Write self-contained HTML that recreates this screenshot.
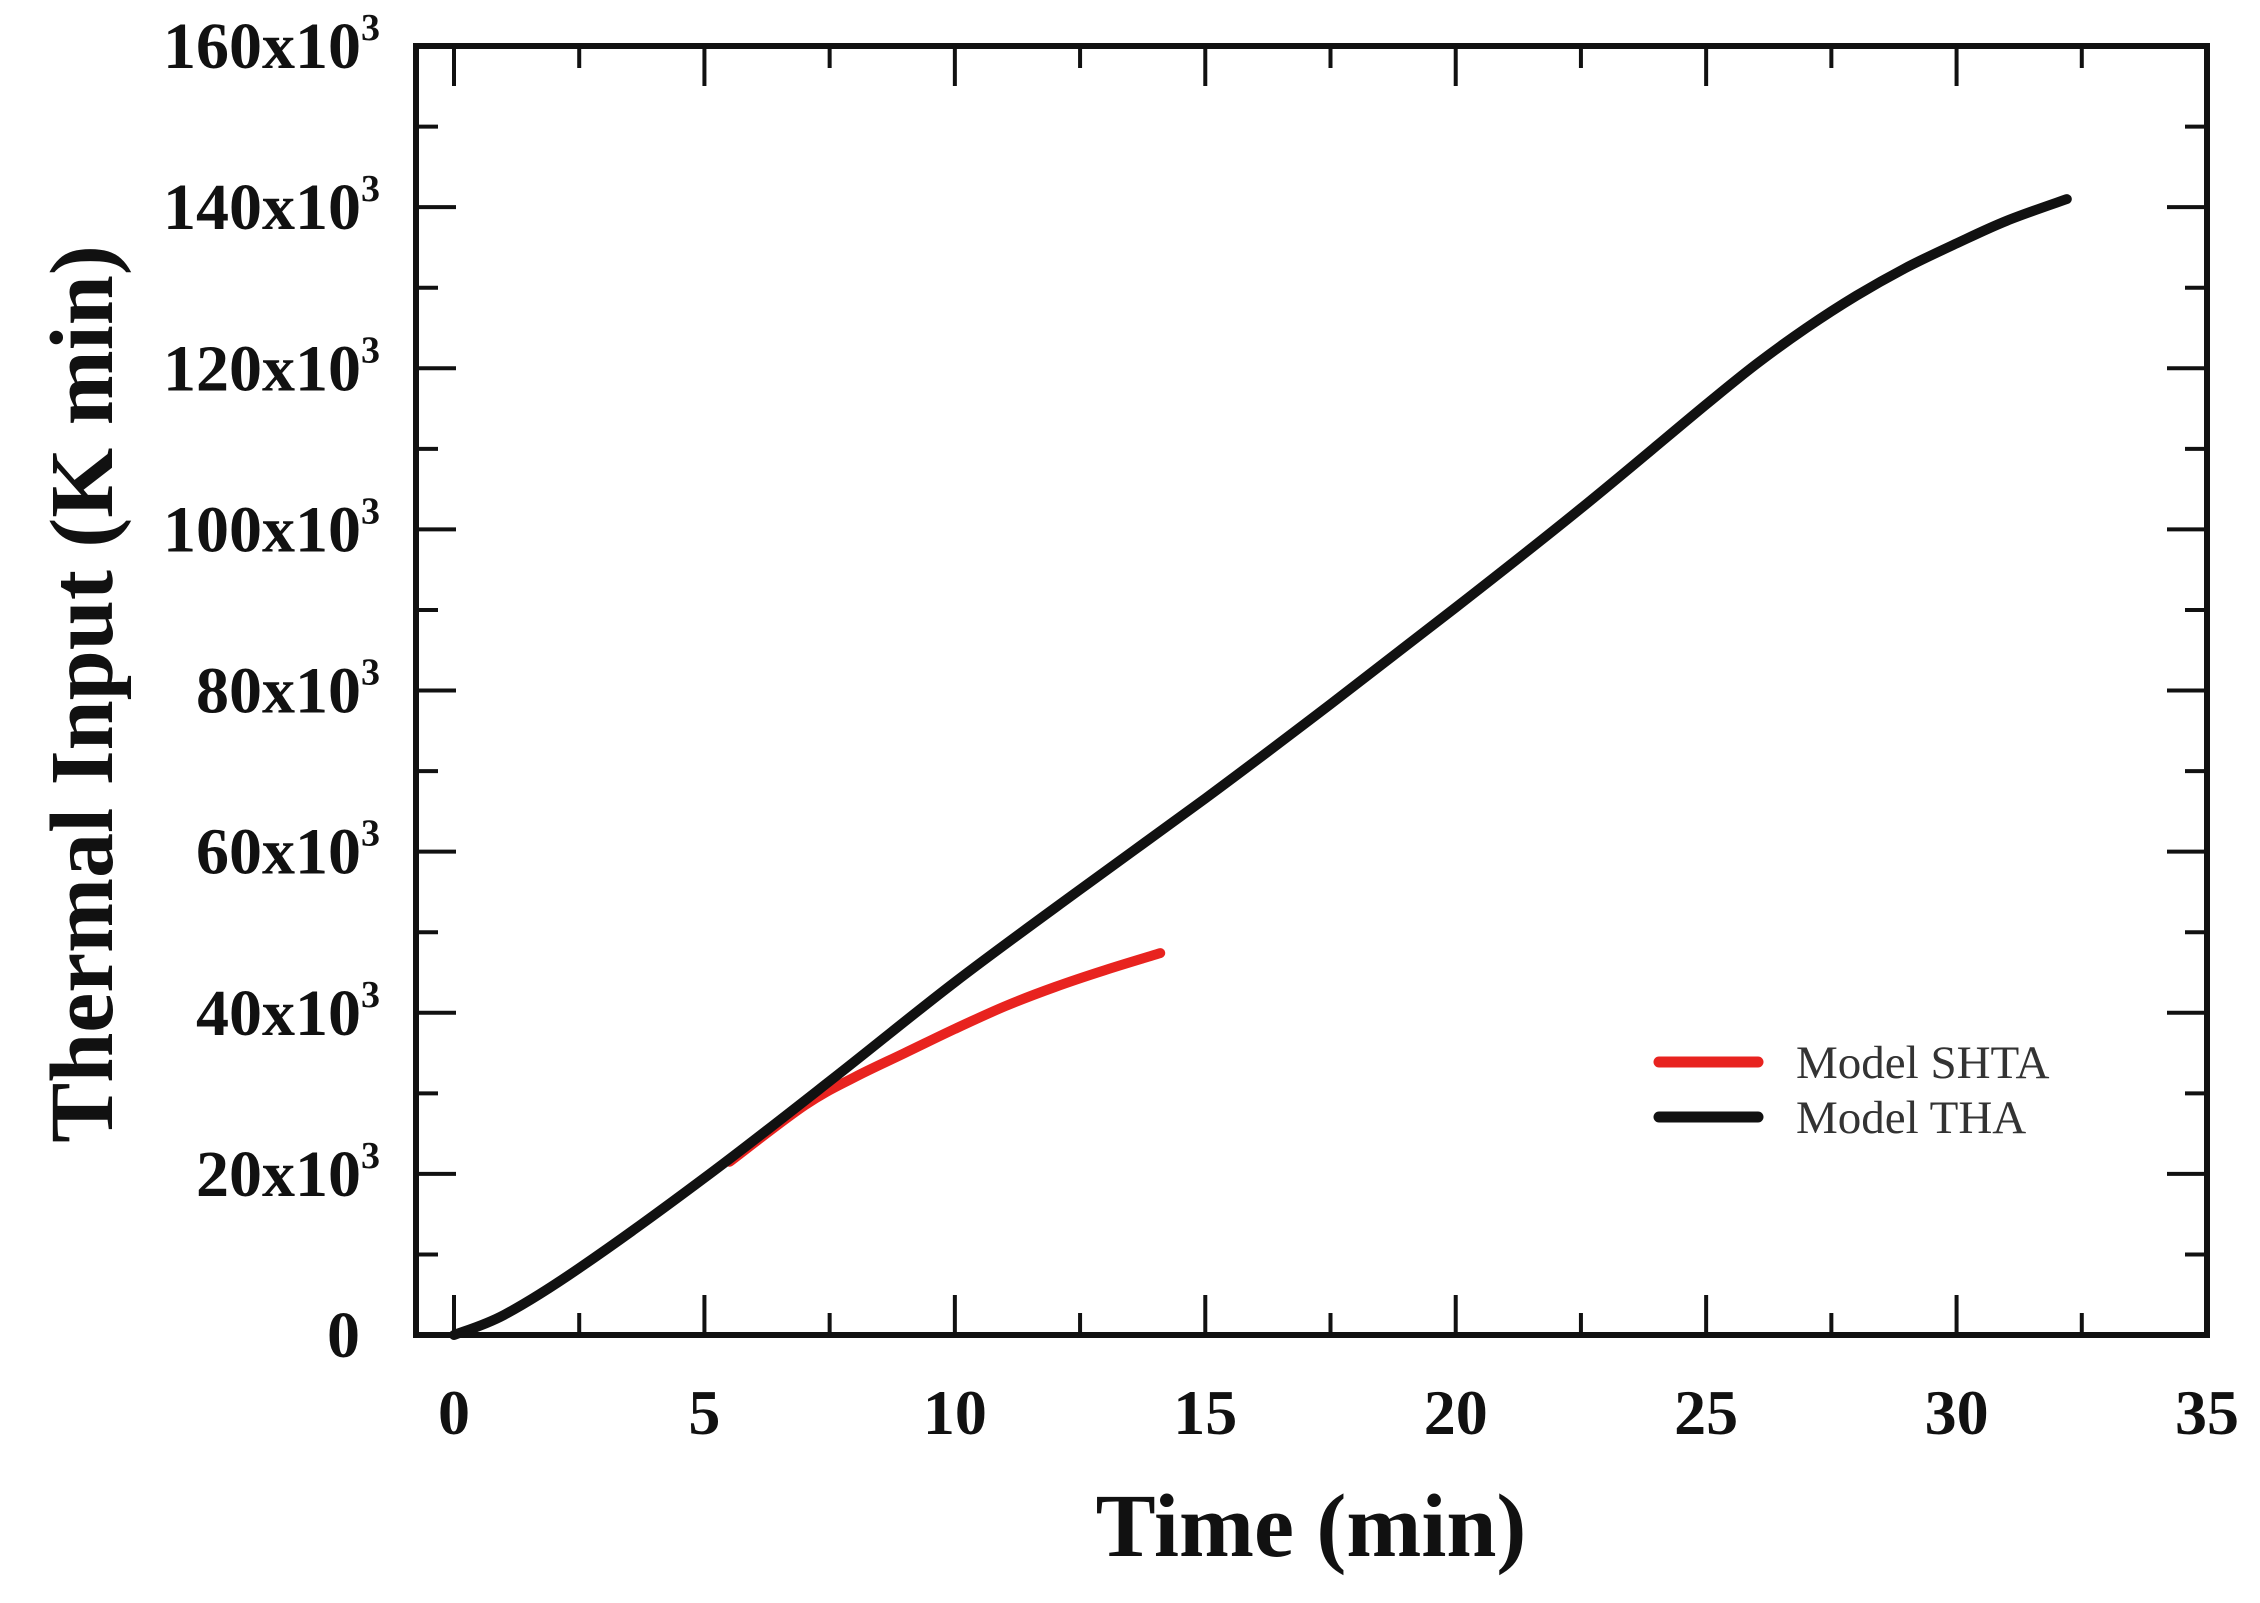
<!DOCTYPE html>
<html><head><meta charset="utf-8"><style>
html,body{margin:0;padding:0;background:#fff;}
svg{display:block;}
</style></head><body>
<svg id="chart" width="2260" height="1603" xmlns="http://www.w3.org/2000/svg" font-family="'Liberation Serif', serif">
<g id="ticks"></g>
<g id="series"></g>
<rect x="416" y="46" width="1791" height="1289" fill="none" stroke="#111" stroke-width="6"/>
<g id="labels"></g>
<text x="1311" y="1556" text-anchor="middle" font-weight="bold" font-size="90" fill="#111">Time (min)</text>
<text transform="translate(112,694) rotate(-90)" text-anchor="middle" font-weight="bold" font-size="90" fill="#111">Thermal Input (K min)</text>
<g>
<line x1="1659" y1="1062" x2="1758" y2="1062" stroke="#e8231f" stroke-width="11" stroke-linecap="round"/>
<text x="1796" y="1078" font-size="47" fill="#333">Model SHTA</text>
<line x1="1659" y1="1117" x2="1758" y2="1117" stroke="#111" stroke-width="11" stroke-linecap="round"/>
<text x="1796" y="1133" font-size="47" fill="#333">Model THA</text>
</g>
</svg>
<script>
const xTicks = [0, 5, 10, 15, 20, 25, 30, 35];
const yTicks = [0, 20, 40, 60, 80, 100, 120, 140, 160];
const thaX = [0, 1, 2.5, 5, 7.5, 10, 12.5, 15, 17.5, 20, 22.5, 25, 26, 27, 28, 29, 30, 31, 32.2];
const thaY = [0, 2.5, 8.3, 19.5, 31.5, 43.8, 55.3, 66.6, 78.3, 90.3, 102.6, 115.5, 120.5, 125, 129, 132.5, 135.5, 138.3, 141];
const shtaX = [5.5, 7, 8, 9, 10, 11, 12, 13, 14.1];
const shtaY = [21.5, 28.5, 32, 35, 38, 40.8, 43.2, 45.3, 47.4];

const NS = 'http://www.w3.org/2000/svg';
const L = 416, R = 2207, T = 46, B = 1335;
const X0 = 454, X35 = 2207;
function sx(v){ return X0 + (X35 - X0) * v / 35; }
function sy(v){ return B - (B - T) * v / 160; }
function mk(tag, attrs, parent){ const e = document.createElementNS(NS, tag); for (const k in attrs) e.setAttribute(k, attrs[k]); parent.appendChild(e); return e; }

const tg = document.getElementById('ticks');
const lg = document.getElementById('labels');
for (let v = 0; v <= 35; v += 2.5) {
  const major = (v % 5 === 0);
  const len = major ? 40 : 22;
  const x = sx(v);
  let t = mk('line', {x1:x, y1:B, x2:x, y2:B-len, stroke:'#111', 'stroke-width':4}, tg);
  
  
  t = mk('line', {x1:x, y1:T, x2:x, y2:T+len, stroke:'#111', 'stroke-width':4}, tg);
  
  
}
xTicks.forEach(v => {
  const t = mk('text', {x:sx(v), y:1434, 'text-anchor':'middle', 'font-weight':'bold', 'font-size':64, fill:'#111'}, lg);
  
  
  t.textContent = v;
});
for (let v = 0; v <= 160; v += 10) {
  const major = (v % 20 === 0);
  const len = major ? 40 : 22;
  const y = sy(v);
  let t = mk('line', {x1:L, y1:y, x2:L+len, y2:y, stroke:'#111', 'stroke-width':4}, tg);
  
  
  t = mk('line', {x1:R, y1:y, x2:R-len, y2:y, stroke:'#111', 'stroke-width':4}, tg);
  
  
}
yTicks.forEach(v => {
  const t = mk('text', {x:v === 0 ? 360 : 380, y:sy(v)+22, 'text-anchor':'end', 'font-weight':'bold', 'font-size':66, fill:'#111'}, lg);
  
  
  if (v === 0) { t.textContent = '0'; }
  else {
    t.textContent = v + 'x10';
    const s = mk('tspan', {'font-size':38, dy:-28}, t);
    s.textContent = '3';
  }
});
function path(xs, ys){
  const P = xs.map((x,i)=>[sx(x), sy(ys[i])]);
  let d = 'M' + P[0][0].toFixed(1) + ',' + P[0][1].toFixed(1);
  for (let i = 0; i < P.length - 1; i++) {
    const p0 = P[i-1] || P[i], p1 = P[i], p2 = P[i+1], p3 = P[i+2] || P[i+1];
    const c1 = [p1[0] + (p2[0]-p0[0])/6, p1[1] + (p2[1]-p0[1])/6];
    const c2 = [p2[0] - (p3[0]-p1[0])/6, p2[1] - (p3[1]-p1[1])/6];
    d += ' C' + c1.map(n=>n.toFixed(1)).join(',') + ' ' + c2.map(n=>n.toFixed(1)).join(',') + ' ' + p2.map(n=>n.toFixed(1)).join(',');
  }
  return d;
}
const sg = document.getElementById('series');
let p = mk('path', {d:path(shtaX, shtaY), fill:'none', stroke:'#e8231f', 'stroke-width':10, 'stroke-linecap':'round', 'stroke-linejoin':'round'}, sg);


p = mk('path', {d:path(thaX, thaY), fill:'none', stroke:'#111', 'stroke-width':10, 'stroke-linecap':'round', 'stroke-linejoin':'round'}, sg);


</script>
</body></html>
